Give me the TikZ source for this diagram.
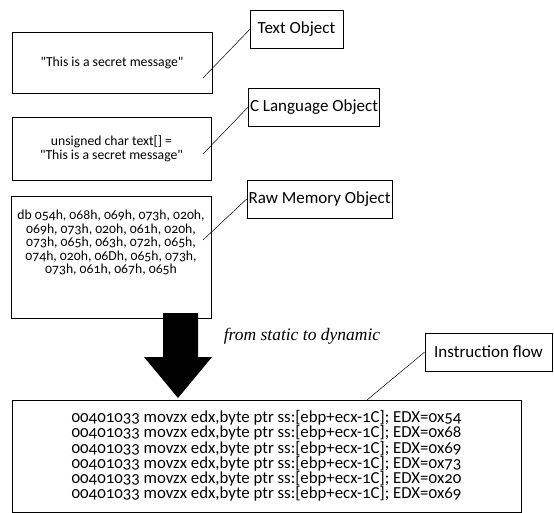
\documentclass[tikz,border=0pt]{standalone}
\usepackage{fontspec}
\setmainfont{Carlito}[Numbers=OldStyle]
\newfontfamily\serifit{Liberation Serif}
\usepackage{tikz}
\usetikzlibrary{positioning,calc}

\begin{document}
\begin{tikzpicture}[x=1pt,y=-1pt,
obj/.style={draw,line width=0.7pt,align=center,font=\fontsize{13.7}{13.5}\selectfont},
lab/.style={draw,line width=0.7pt,minimum height=38pt,inner sep=1.5pt,font=\fontsize{17}{18}\selectfont},
ln/.style={line width=0.5pt}]
\useasboundingbox (0,0) rectangle (554,513);
% object boxes
\node[obj,minimum width=200pt,minimum height=61pt] (txt) at (112,62.5) {\textquotedbl This is a secret message\textquotedbl};
\node[obj,minimum width=199pt,minimum height=63pt] (clang) at (111.5,148.5) {unsigned char text[] =\\\textquotedbl This is a secret message\textquotedbl};
\node[obj,minimum width=200pt,minimum height=122pt] (raw) at (111,257) {db 054h, 068h, 069h, 073h, 020h,\\069h, 073h, 020h, 061h, 020h,\\073h, 065h, 063h, 072h, 065h,\\074h, 020h, 06Dh, 065h, 073h,\\073h, 061h, 067h, 065h\\[17pt]\mbox{}};
\node[obj,minimum width=509pt,minimum height=112pt,font=\fontsize{16.8}{15.2}\selectfont] (flow) at (266.5,456) {00401033 movzx edx,byte ptr ss:[ebp+ecx-1C]; EDX=0x54\\00401033 movzx edx,byte ptr ss:[ebp+ecx-1C]; EDX=0x68\\00401033 movzx edx,byte ptr ss:[ebp+ecx-1C]; EDX=0x69\\00401033 movzx edx,byte ptr ss:[ebp+ecx-1C]; EDX=0x73\\00401033 movzx edx,byte ptr ss:[ebp+ecx-1C]; EDX=0x20\\00401033 movzx edx,byte ptr ss:[ebp+ecx-1C]; EDX=0x69};
% labels
\node[lab,minimum width=93pt] (labtxt) at (296.5,29.5) {Text Object};
\node[lab,minimum width=128pt] (labc) at (314,107) {C Language Object};
\node[lab,minimum width=143pt] (labraw) at (319.5,199) {Raw Memory Object};
\node[lab,minimum width=127pt] (labflow) at (488.5,352) {Instruction flow};
\coordinate (ptxt) at (203,78);
\coordinate (pclang) at (203,154);
\coordinate (praw) at (203,240);
\coordinate (pflow) at (367,400);
\draw[ln] (ptxt)--(labtxt.west);
\draw[ln] (pclang)--(labc.west);
\draw[ln] (praw)--(labraw.west);
\draw[ln] (pflow)--(labflow.west);
% big arrow
\fill (163,313) -- (198,313) -- (198,357) -- (212,357) -- (178,398) -- (144,357) -- (163,357) -- cycle;
\node[font=\serifit\itshape\fontsize{17.5}{19}\selectfont] (dyn) at (302,336) {from static to dynamic};
\end{tikzpicture}
\end{document}
